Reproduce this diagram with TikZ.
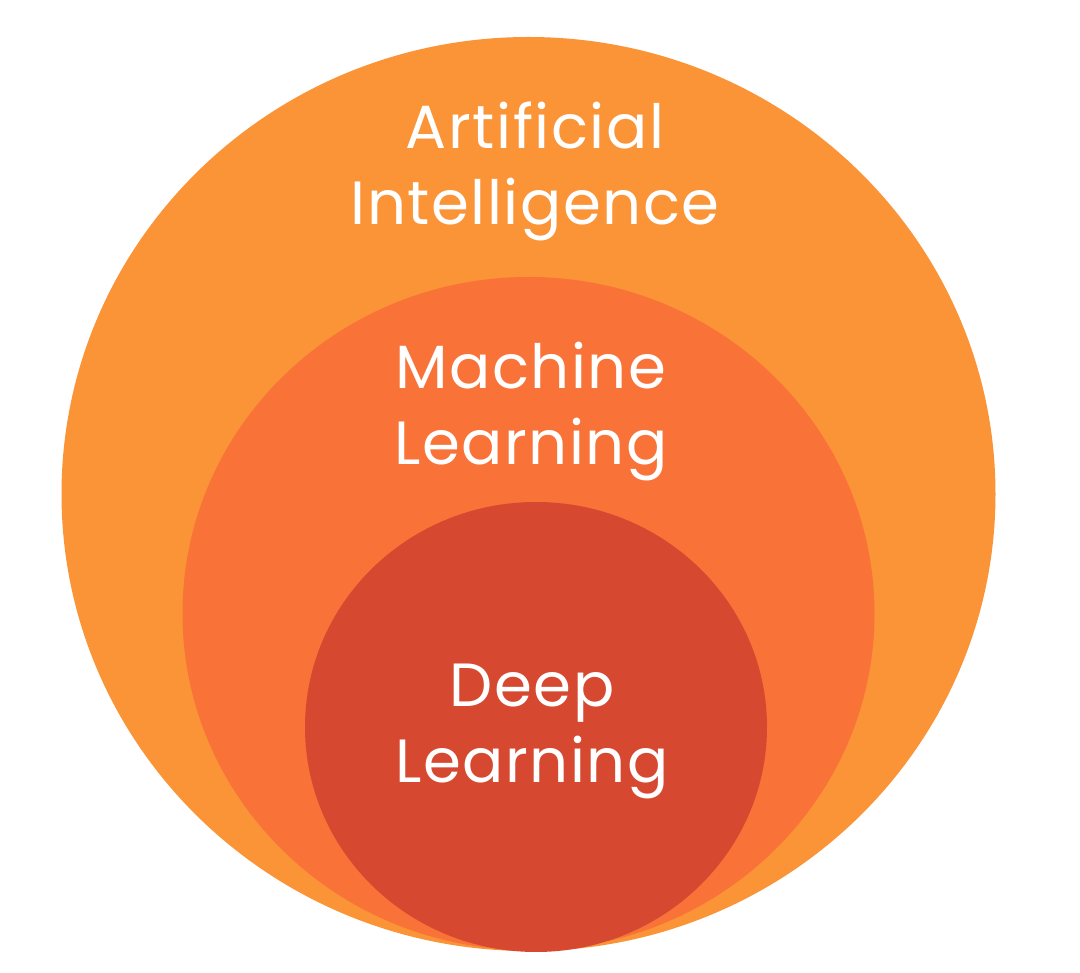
\documentclass[tikz,border=0pt]{standalone}
\usepackage{fontspec}
\setmainfont{Poppins}[LetterSpace=2.5]
\definecolor{aiorange}{HTML}{FB9337}
\definecolor{mlorange}{HTML}{F97238}
\definecolor{dlred}{HTML}{D64930}
\tikzset{
  layer/.style={draw=none},
  lbl/.style={text=white, align=center, inner sep=0pt,
    font=\fontsize{61}{76}\selectfont}
}
\begin{document}
\begin{tikzpicture}[x=1pt,y=-1pt]
\useasboundingbox[fill=white] (0,0) rectangle (1080,973);
\fill[layer, aiorange] (528.5,494) ellipse [x radius=467, y radius=457];
\fill[layer, mlorange] (528.5,613.5) ellipse [x radius=346, y radius=336.5];
\fill[layer, dlred] (536,727) ellipse [x radius=231, y radius=225];
\node[lbl] (ai) at (535,171) {Artificial\\Intelligence};
\node[lbl] (ml) at (531,412) {Machine\\Learning};
\node[lbl] (dl) at (532,731) {Deep\\Learning};
\end{tikzpicture}
\end{document}
